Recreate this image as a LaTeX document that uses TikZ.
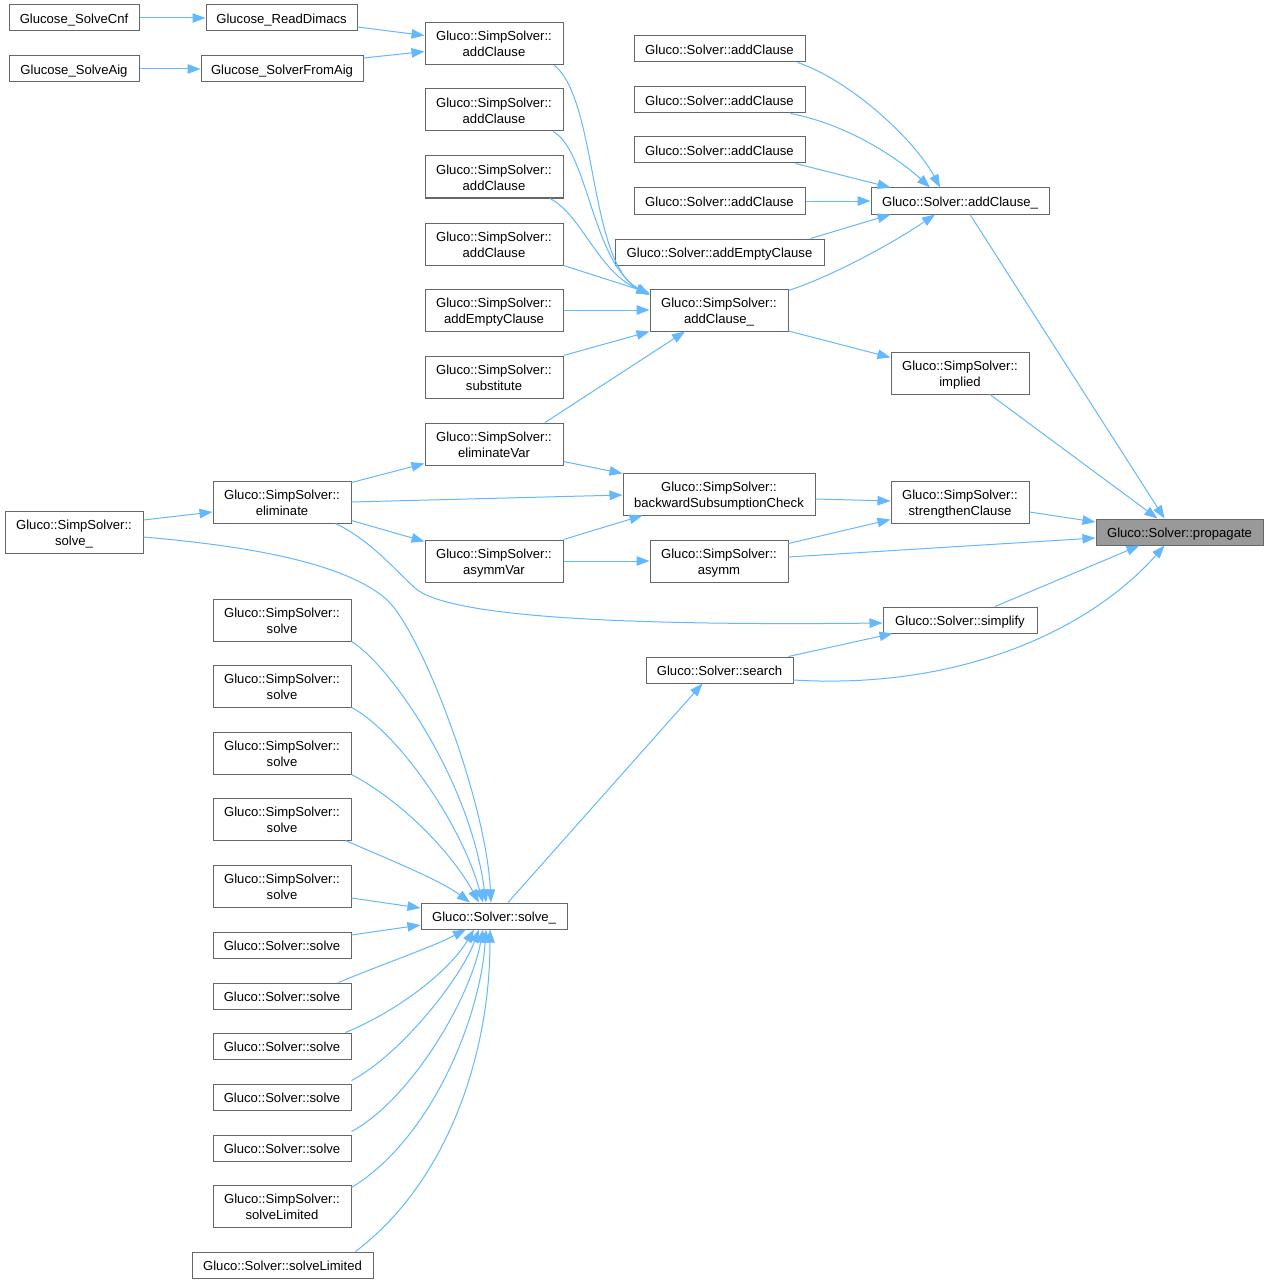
\documentclass[tikz,border=0pt]{standalone}
\usepackage{fontspec}
\setmainfont{Liberation Sans}
\usetikzlibrary{arrows.meta,calc}
\definecolor{edgec}{HTML}{63B8FF}
\definecolor{boxc}{HTML}{666666}
\definecolor{hilite}{HTML}{999999}
\tikzset{
  fn/.style={draw=boxc, line width=1pt, fill=white, inner sep=0pt, minimum height=26pt,
    font=\fontsize{13.1pt}{16pt}\selectfont, align=center, text=black,
    text height=13pt, text depth=2.5pt},
  two/.style={fn, minimum height=42pt, text height=29pt, text depth=2.5pt},
  hl/.style={fn, fill=hilite},
  edge/.style={draw=edgec, line width=1pt, -{Triangle[length=13pt,width=9.5pt]}}
}
\begin{document}
\begin{tikzpicture}[x=1pt,y=-1pt]
\path[use as bounding box, fill=white] (0,0) rectangle (1268,1284);

% nodes
\node[fn, minimum width=130pt] (cnf) at (74,18) {Glucose\_SolveCnf};
\node[fn, minimum width=151pt] (rd) at (281.5,18) {Glucose\_ReadDimacs};
\node[fn, minimum width=130pt] (aig) at (74,69) {Glucose\_SolveAig};
\node[fn, minimum width=162pt] (fa) at (282,69) {Glucose\_SolverFromAig};

\node[two, minimum width=138pt] (sac1) at (494,43.5) {Gluco::SimpSolver::\\addClause};
\node[two, minimum width=138pt] (sac2) at (494,110) {Gluco::SimpSolver::\\addClause};
\node[two, minimum width=138pt] (sac3) at (494,177) {Gluco::SimpSolver::\\addClause};
\node[two, minimum width=138pt] (sac4) at (494,244) {Gluco::SimpSolver::\\addClause};
\node[two, minimum width=138pt] (saec) at (494,310) {Gluco::SimpSolver::\\addEmptyClause};
\node[two, minimum width=138pt] (sub) at (494,377) {Gluco::SimpSolver::\\substitute};
\node[two, minimum width=138pt] (ev) at (494,444) {Gluco::SimpSolver::\\eliminateVar};
\node[two, minimum width=138pt] (av) at (494,561) {Gluco::SimpSolver::\\asymmVar};

\node[two, minimum width=192pt] (bsc) at (719,494) {Gluco::SimpSolver::\\backwardSubsumptionCheck};
\node[two, minimum width=138pt] (asy) at (719,561) {Gluco::SimpSolver::\\asymm};
\node[two, minimum width=138pt] (sacu) at (719,310) {Gluco::SimpSolver::\\addClause\_};

\node[fn, minimum width=171pt] (ac1) at (719.5,49) {Gluco::Solver::addClause};
\node[fn, minimum width=171pt] (ac2) at (719.5,100) {Gluco::Solver::addClause};
\node[fn, minimum width=171pt] (ac3) at (719.5,150) {Gluco::Solver::addClause};
\node[fn, minimum width=171pt] (ac4) at (719.5,201) {Gluco::Solver::addClause};
\node[fn, minimum width=209pt] (aec) at (719.5,252) {Gluco::Solver::addEmptyClause};

\node[fn, minimum width=178pt] (acu) at (960,201) {Gluco::Solver::addClause\_};
\node[two, minimum width=138pt] (imp) at (960,373) {Gluco::SimpSolver::\\implied};
\node[two, minimum width=138pt] (str) at (960,502) {Gluco::SimpSolver::\\strengthenClause};
\node[hl, minimum width=167pt] (prop) at (1179.5,532) {Gluco::Solver::propagate};
\node[fn, minimum width=154pt] (simp) at (960,620) {Gluco::Solver::simplify};
\node[fn, minimum width=147pt] (srch) at (719.5,670) {Gluco::Solver::search};

\node[two, minimum width=138pt] (elim) at (282,502) {Gluco::SimpSolver::\\eliminate};
\node[two, minimum width=138pt] (ssu) at (74,532) {Gluco::SimpSolver::\\solve\_};

\node[two, minimum width=138pt] (ssol1) at (282,620) {Gluco::SimpSolver::\\solve};
\node[two, minimum width=138pt] (ssol2) at (282,686) {Gluco::SimpSolver::\\solve};
\node[two, minimum width=138pt] (ssol3) at (282,753) {Gluco::SimpSolver::\\solve};
\node[two, minimum width=138pt] (ssol4) at (282,819) {Gluco::SimpSolver::\\solve};
\node[two, minimum width=138pt] (ssol5) at (282,886) {Gluco::SimpSolver::\\solve};
\node[fn, minimum width=138pt] (sol1) at (282,945) {Gluco::Solver::solve};
\node[fn, minimum width=138pt] (sol2) at (282,996) {Gluco::Solver::solve};
\node[fn, minimum width=138pt] (sol3) at (282,1046) {Gluco::Solver::solve};
\node[fn, minimum width=138pt] (sol4) at (282,1097) {Gluco::Solver::solve};
\node[fn, minimum width=138pt] (sol5) at (282,1148) {Gluco::Solver::solve};
\node[two, minimum width=138pt] (ssl) at (282,1206) {Gluco::SimpSolver::\\solveLimited};
\node[fn, minimum width=181pt] (sl) at (282.5,1265) {Gluco::Solver::solveLimited};
\node[fn, minimum width=146pt] (su) at (494,916) {Gluco::Solver::solve\_};

% edges
\draw[edge] (cnf.east) -- (rd.west);
\draw[edge] (aig.east) -- (fa.west);
\draw[edge] ($(rd.east)+(0,9)$) -- ($(sac1.west)+(0,-8)$);
\draw[edge] ($(fa.east)+(0,-11)$) -- ($(sac1.west)+(0,8)$);

\draw[edge] ($(sac1.south)+(60,0)$) .. controls (598,100) and (588,262) .. ($(sacu.west)+(0,-15)$);
\draw[edge] ($(sac2.south)+(59,0)$) .. controls (588,150) and (592,262) .. ($(sacu.west)+(0,-15)$);
\draw[edge] ($(sac3.south)+(56,0)$) .. controls (582,215) and (598,272) .. ($(sacu.west)+(0,-16)$);
\draw[edge] (sac4.south east) -- ($(sacu.west)+(0,-17)$);
\draw[edge] (saec.east) -- (sacu.west);
\draw[edge] (sub.north east) -- (sacu.south west);
\draw[edge] ($(ev.north)+(51,0)$) -- ($(sacu.south)+(-34,0)$);

\draw[edge] ($(ac1.south east)+(-8,0)$) .. controls (850,80) and (915,140) .. ($(acu.north)+(-20,0)$);
\draw[edge] ($(ac2.south east)+(-15,0)$) .. controls (850,125) and (900,160) .. ($(acu.north)+(-30,0)$);
\draw[edge] ($(ac3.south east)+(-10,0)$) -- ($(acu.north west)+(20,0)$);
\draw[edge] (ac4.east) -- (acu.west);
\draw[edge] ($(aec.north east)+(-14,0)$) -- ($(acu.south west)+(20,0)$);
\draw[edge] ($(sacu.north east)+(0,2)$) .. controls (830,277) and (890,245) .. ($(acu.south)+(-25,0)$);
\draw[edge] ($(sacu.east)+(0,21)$) -- ($(imp.north west)+(0,6)$);

\draw[edge] ($(acu.south)+(10,0)$) -- ($(prop.north)+(-15,0)$);
\draw[edge] ($(imp.south)+(30,0)$) -- ($(prop.north)+(-22,0)$);
\draw[edge] ($(str.east)+(0,10)$) -- ($(prop.west)+(0,-10)$);
\draw[edge] ($(asy.east)+(0,-4)$) -- ($(prop.west)+(0,6)$);
\draw[edge] ($(simp.north)+(35,0)$) -- ($(prop.south)+(-40,0)$);
\draw[edge] ($(srch.east)+(0,10)$) .. controls (960,690) and (1090,630) .. ($(prop.south)+(-15,0)$);

\draw[edge] ($(bsc.east)+(0,5)$) -- ($(str.west)+(0,-1)$);
\draw[edge] ($(asy.north east)+(0,4)$) -- ($(str.south west)+(0,-4)$);
\draw[edge] ($(ev.south east)+(0,-4)$) -- ($(bsc.north west)+(0,1)$);
\draw[edge] (elim.east) -- ($(bsc.west)+(0,1)$);
\draw[edge] (av.north east) -- ($(bsc.south west)+(20,0)$);
\draw[edge] (av.east) -- (asy.west);
\draw[edge] ($(elim.north east)+(0,2)$) -- ($(ev.south west)+(0,-2)$);
\draw[edge] ($(elim.south east)+(0,-3)$) -- ($(av.north west)+(0,2)$);
\draw[edge] ($(ssu.east)+(0,-12)$) -- ($(elim.west)+(0,10)$);

\draw[edge] ($(elim.south east)+(-16,0)$) .. controls (370,540) and (393,568) .. (415,588)
  .. controls (445,615) and (600,626) .. ($(simp.west)+(0,3)$);
\draw[edge] ($(srch.north east)+(-5,0)$) -- ($(simp.south west)+(10,0)$);
\draw[edge] ($(su.north)+(14,0)$) -- ($(srch.south)+(-17,0)$);

\draw[edge] ($(ssu.east)+(0,5)$) .. controls (260,547) and (345,565) .. (385,598)
  .. controls (420,627) and (486,800) .. ($(su.north)+(-3,0)$);
\draw[edge] (ssol1.south east) .. controls (390,665) and (470,780) .. ($(su.north)+(-8,0)$);
\draw[edge] (ssol2.south east) .. controls (395,730) and (460,820) .. ($(su.north)+(-11,0)$);
\draw[edge] (ssol3.south east) .. controls (400,800) and (450,850) .. ($(su.north)+(-15,0)$);
\draw[edge] ($(ssol4.south east)+(-6,0)$) .. controls (390,860) and (440,880) .. ($(su.north)+(-24,0)$);
\draw[edge] ($(ssol5.east)+(0,12)$) -- ($(su.west)+(0,-8)$);
\draw[edge] ($(sol1.east)+(0,-10)$) -- ($(su.west)+(0,9)$);
\draw[edge] ($(sol2.north east)+(-13,0)$) .. controls (380,965) and (430,948) .. ($(su.south)+(-28,0)$);
\draw[edge] ($(sol3.north east)+(-6,0)$) .. controls (400,1010) and (450,970) .. ($(su.south)+(-20,0)$);
\draw[edge] ($(sol4.north east)+(0,-3)$) .. controls (400,1055) and (460,980) .. ($(su.south)+(-15,0)$);
\draw[edge] ($(sol5.north east)+(0,-3)$) .. controls (410,1100) and (470,1000) .. ($(su.south)+(-11,0)$);
\draw[edge] ($(ssl.north east)+(0,3)$) .. controls (430,1140) and (480,1020) .. ($(su.south)+(-8,0)$);
\draw[edge] ($(sl.north east)+(-18,0)$) .. controls (450,1180) and (490,1050) .. ($(su.south)+(-4,0)$);
\end{tikzpicture}
\end{document}
